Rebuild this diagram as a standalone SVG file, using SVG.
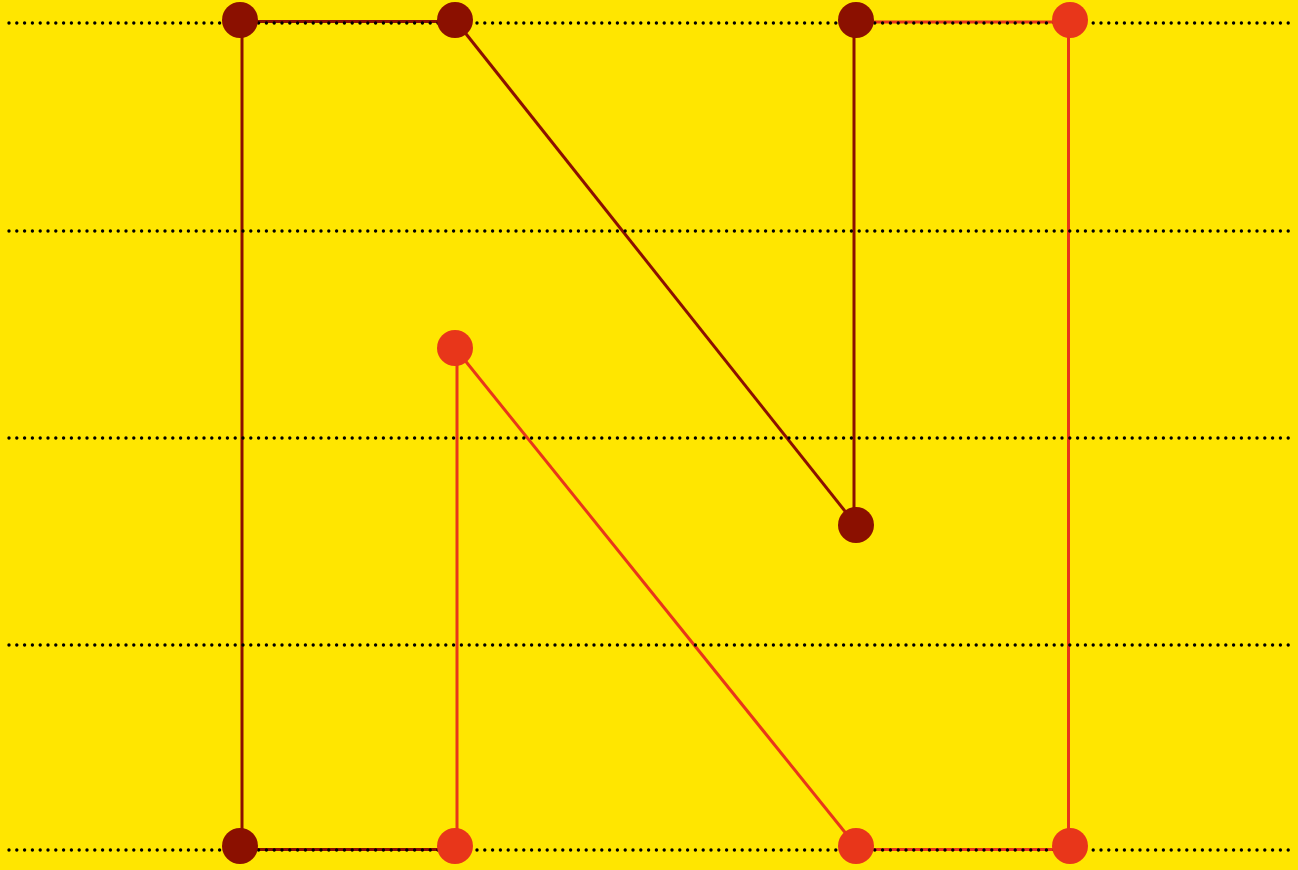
<svg xmlns="http://www.w3.org/2000/svg" width="1298" height="870" viewBox="0 0 1298 870">
<style>
.dk{stroke:#8B1000;stroke-width:3;fill:none}
.or{stroke:#E8361A;stroke-width:3;fill:none}
.grid{stroke:#000;stroke-width:3.4;stroke-linecap:round;stroke-dasharray:0 7.8;fill:none}
.nd{fill:#8B1000}
.no{fill:#E8361A}
</style>
<rect width="1298" height="870" fill="#FFE600"/>
<g id="connectors">
<line class="dk" x1="242" y1="20" x2="242" y2="846"/>
<line class="dk" x1="240" y1="21.5" x2="455" y2="21.5"/>
<line class="dk" x1="455" y1="20" x2="856" y2="525"/>
<line class="dk" x1="854" y1="20" x2="854" y2="525"/>
<line class="or" x1="856" y1="22" x2="1070" y2="22"/>
<line class="or" x1="1068.5" y1="20" x2="1068.5" y2="846"/>
<line class="dk" x1="240" y1="849.5" x2="455" y2="849.5"/>
<line class="or" x1="457" y1="348" x2="457" y2="846"/>
<line class="or" x1="455" y1="348" x2="856" y2="846"/>
<line class="or" x1="856" y1="849.5" x2="1070" y2="849.5"/>
</g>
<g id="grid">
<line class="grid" x1="9" y1="23" x2="1290" y2="23"/>
<line class="grid" x1="9" y1="231" x2="1290" y2="231"/>
<line class="grid" x1="9" y1="438" x2="1290" y2="438"/>
<line class="grid" x1="9" y1="645" x2="1290" y2="645"/>
<line class="grid" x1="9" y1="850" x2="1290" y2="850"/>
</g>
<g id="n1"><circle class="nd" cx="240" cy="20" r="18"/></g>
<g id="n2"><circle class="nd" cx="455" cy="20" r="18"/></g>
<g id="n3"><circle class="nd" cx="856" cy="20" r="18"/></g>
<g id="n4"><circle class="no" cx="1070" cy="20" r="18"/></g>
<g id="n5"><circle class="no" cx="455" cy="348" r="18"/></g>
<g id="n6"><circle class="nd" cx="856" cy="525" r="18"/></g>
<g id="n7"><circle class="nd" cx="240" cy="846" r="18"/></g>
<g id="n8"><circle class="no" cx="455" cy="846" r="18"/></g>
<g id="n9"><circle class="no" cx="856" cy="846" r="18"/></g>
<g id="n10"><circle class="no" cx="1070" cy="846" r="18"/></g>
</svg>
